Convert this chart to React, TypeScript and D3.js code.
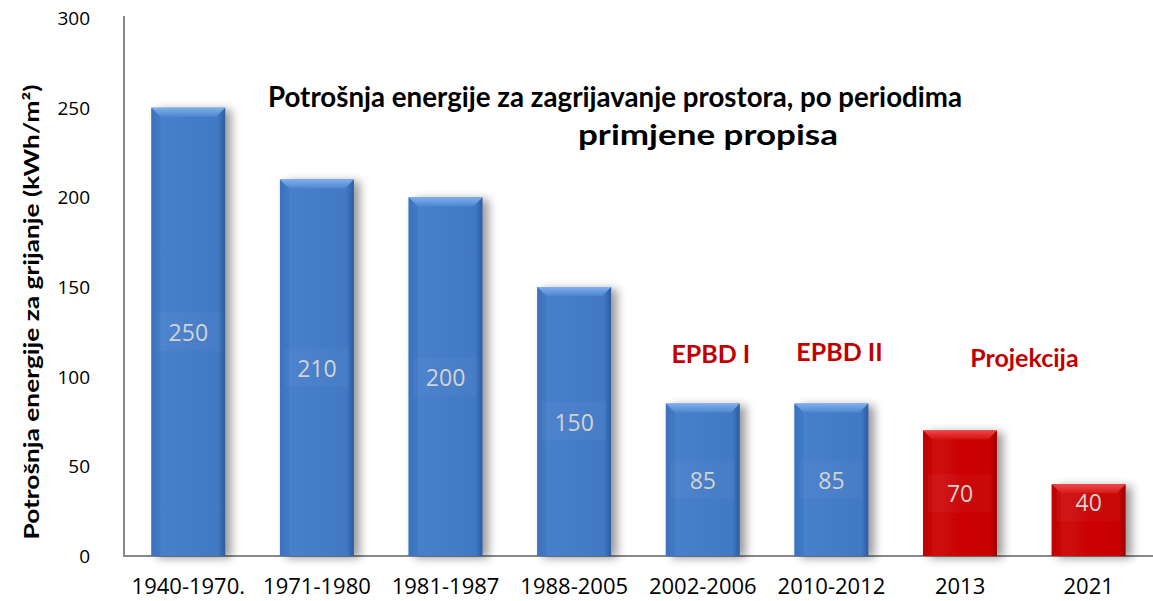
import React from 'react';
import * as d3 from 'd3';

// data
const periods = ['1940-1970.', '1971-1980', '1981-1987', '1988-2005', '2002-2006', '2010-2012', '2013', '2021'];
const consumption = [250, 210, 200, 150, 85, 85, 70, 40];
const projected = [false, false, false, false, false, false, true, true];
const yTicks = [0, 50, 100, 150, 200, 250, 300];
const notes = [
    { text: 'EPBD I', at: '2002-2006', y: 353 },
    { text: 'EPBD II', at: '2010-2012', y: 351 },
    { text: 'Projekcija', between: ['2013', '2021'], y: 357 },
];

const W = 1153;
const H = 601;
const FONT = '"Open Sans", "DejaVu Sans", sans-serif';
const BOLD = 'Lato, "Open Sans", sans-serif';

const App = () => {
    const x = d3.scaleBand<string>().domain(periods).range([124, 1153]).paddingInner(0.425).paddingOuter(0.2125);
    const y = d3.scaleLinear().domain([0, 300]).range([556, 18]);
    const base = y(0);
    const bw = x.bandwidth();
    const bevel = 9;

    const bars = periods.map((p, i) => ({
        p,
        v: consumption[i],
        red: projected[i],
        x0: x(p) as number,
        y0: y(consumption[i]),
    }));

    return (
        <svg width={W} height={H} style={{ position: 'absolute', left: 0, top: 0 }}>
            <defs>
                <linearGradient id="blueBody" x1="0" x2="1" y1="0" y2="0">
                    <stop offset="0" stopColor="#3a70bb" />
                    <stop offset="0.08" stopColor="#4780cc" />
                    <stop offset="0.9" stopColor="#4179c5" />
                    <stop offset="1" stopColor="#2d5c9c" />
                </linearGradient>
                <linearGradient id="blueTop" x1="0" x2="0" y1="0" y2="1">
                    <stop offset="0" stopColor="#80b0ec" />
                    <stop offset="1" stopColor="#4d86d2" />
                </linearGradient>
                <linearGradient id="redBody" x1="0" x2="1" y1="0" y2="0">
                    <stop offset="0" stopColor="#b80000" />
                    <stop offset="0.08" stopColor="#d00808" />
                    <stop offset="0.9" stopColor="#c80404" />
                    <stop offset="1" stopColor="#a00000" />
                </linearGradient>
                <linearGradient id="redTop" x1="0" x2="0" y1="0" y2="1">
                    <stop offset="0" stopColor="#f04545" />
                    <stop offset="1" stopColor="#d41010" />
                </linearGradient>
                <filter id="shadow" x="-30%" y="-30%" width="160%" height="160%">
                    <feGaussianBlur in="SourceAlpha" stdDeviation="5" />
                    <feOffset dx="6" dy="2" result="b" />
                    <feComponentTransfer>
                        <feFuncA type="linear" slope="0.4" />
                    </feComponentTransfer>
                    <feMerge>
                        <feMergeNode />
                        <feMergeNode in="SourceGraphic" />
                    </feMerge>
                </filter>
                <filter id="boxShadow" x="-40%" y="-40%" width="180%" height="180%">
                    <feGaussianBlur in="SourceAlpha" stdDeviation="4" />
                    <feOffset dx="4" dy="4" />
                    <feComponentTransfer>
                        <feFuncA type="linear" slope="0.12" />
                    </feComponentTransfer>
                    <feMerge>
                        <feMergeNode />
                        <feMergeNode in="SourceGraphic" />
                    </feMerge>
                </filter>
            </defs>

            {/* axes */}
            <line x1={124} x2={124} y1={16} y2={base} stroke="#888" strokeWidth={2} />
            <line x1={123} x2={1153} y1={base} y2={base} stroke="#888" strokeWidth={2} />

            {yTicks.map(t => (
                <text key={t} x={90} y={y(t)} textAnchor="end" dominantBaseline="central"
                    fontFamily={FONT} fontSize={19} fill="#000">{t}</text>
            ))}

            <text transform="translate(31,312) rotate(-90)" textAnchor="middle" dominantBaseline="central"
                fontFamily={BOLD} fontSize={20} fontWeight={700} textLength={455} lengthAdjust="spacingAndGlyphs">
                Potrošnja energije za grijanje  (kWh/m²)
            </text>

            {/* bars */}
            {bars.map(b => {
                const h = base - b.y0;
                const labelY = Math.min(b.y0 + h / 2, base - 54);
                return (
                    <g key={b.p}>
                        <g filter="url(#shadow)">
                            <rect x={b.x0} y={b.y0} width={bw} height={h} fill={b.red ? 'url(#redBody)' : 'url(#blueBody)'} />
                        </g>
                        <polygon
                            points={`${b.x0},${b.y0} ${b.x0 + bw},${b.y0} ${b.x0 + bw - bevel},${b.y0 + bevel} ${b.x0 + bevel},${b.y0 + bevel}`}
                            fill={b.red ? 'url(#redTop)' : 'url(#blueTop)'} />
                        <polygon
                            points={`${b.x0},${b.y0} ${b.x0 + bevel},${b.y0 + bevel} ${b.x0 + bevel},${base} ${b.x0},${base}`}
                            fill={b.red ? '#c00000' : '#3c73bf'} opacity={0.6} />
                        <rect x={b.x0 + bw / 2 - 32} y={labelY - 19} width={64} height={38}
                            fill="#ffffff" opacity={0.03} filter="url(#boxShadow)" />
                        <text x={b.x0 + bw / 2} y={labelY} textAnchor="middle" dominantBaseline="central"
                            fontFamily={FONT} fontSize={23} fill="#d3d3d3">{b.v}</text>
                        <text x={b.x0 + bw / 2} y={585} textAnchor="middle" dominantBaseline="central"
                            fontFamily={FONT} fontSize={22} fill="#000">{b.p}</text>
                    </g>
                );
            })}

            {/* annotations */}
            {notes.map(n => {
                const cx = n.between
                    ? ((x(n.between[0]) as number) + (x(n.between[1]) as number) + bw) / 2
                    : (x(n.at as string) as number) + bw / 2 + 8;
                return (
                    <text key={n.text} x={cx} y={n.y} textAnchor="middle" dominantBaseline="central"
                        fontFamily={BOLD} fontSize={25} fontWeight={700} fill="#c00000">{n.text}</text>
                );
            })}

            {/* title */}
            <text x={615} y={95} textAnchor="middle" dominantBaseline="central" fontFamily={BOLD}
                fontSize={29} fontWeight={700} textLength={694} lengthAdjust="spacingAndGlyphs">
                Potrošnja energije za zagrijavanje prostora, po periodima
            </text>
            <text x={708} y={133} textAnchor="middle" dominantBaseline="central" fontFamily={BOLD}
                fontSize={29} fontWeight={700} textLength={260} lengthAdjust="spacingAndGlyphs">
                primjene propisa
            </text>
        </svg>
    );
};

export default App;
